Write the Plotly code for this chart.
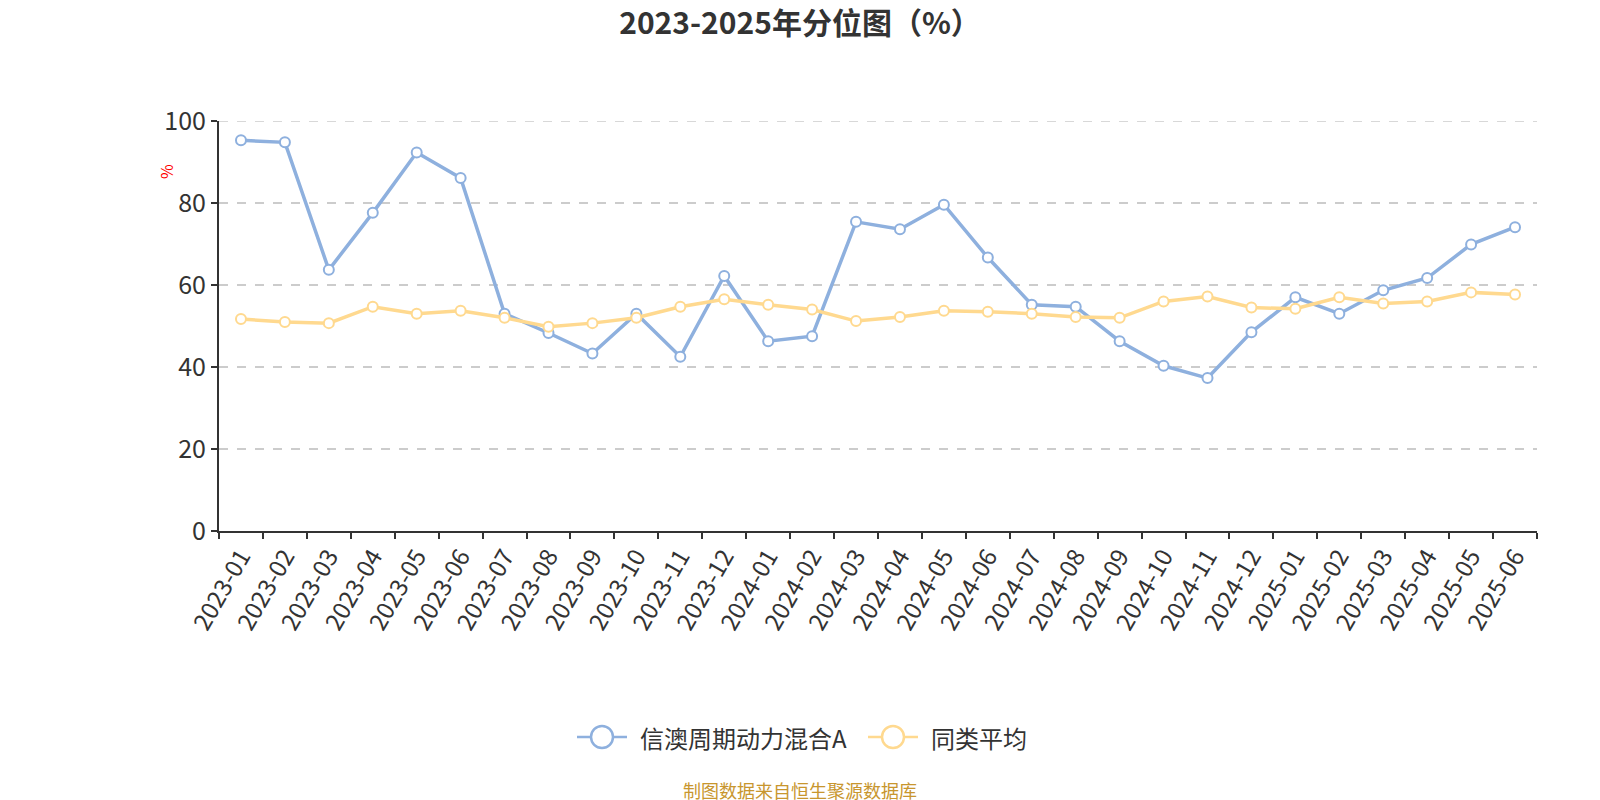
import plotly.graph_objects as go

months = ["2023-01", "2023-02", "2023-03", "2023-04", "2023-05", "2023-06",
          "2023-07", "2023-08", "2023-09", "2023-10", "2023-11", "2023-12",
          "2024-01", "2024-02", "2024-03", "2024-04", "2024-05", "2024-06",
          "2024-07", "2024-08", "2024-09", "2024-10", "2024-11", "2024-12",
          "2025-01", "2025-02", "2025-03", "2025-04", "2025-05", "2025-06"]

fund_name = "信澳周期动力混合A"
fund_values = [95.3, 94.8, 63.7, 77.6, 92.3, 86.1, 53.0, 48.3, 43.3, 53.0,
               42.5, 62.2, 46.3, 47.5, 75.4, 73.6, 79.6, 66.7, 55.2, 54.7,
               46.3, 40.3, 37.3, 48.5, 57.0, 53.0, 58.7, 61.7, 69.9, 74.1]

avg_name = "同类平均"
avg_values = [51.7, 51.0, 50.7, 54.7, 53.0, 53.7, 52.0, 49.8, 50.7, 52.0,
              54.7, 56.5, 55.2, 54.0, 51.2, 52.2, 53.7, 53.5, 53.0, 52.2,
              52.0, 56.0, 57.2, 54.5, 54.2, 57.0, 55.5, 56.0, 58.2, 57.7]

y_ticks = [0, 20, 40, 60, 80, 100]

FONT = "Noto Sans CJK SC"
BLUE = "#8eb0de"
YELLOW = "#ffd98f"

# plot area in figure pixels
L, R, T, B = 211, 71, 113, 277
W, H = 1600, 800
PW, PH = W - L - R, H - T - B


def px_x(px):
    return (px - L) / PW


def px_y(py):
    return (H - B - py) / PH


fig = go.Figure()
series = [(fund_name, fund_values, BLUE), (avg_name, avg_values, YELLOW)]
for name, vals, col in series:
    fig.add_trace(go.Scatter(
        x=months, y=vals, name=name, mode="lines+markers", showlegend=False,
        line=dict(color=col, width=3.5),
        marker=dict(symbol="circle", size=10, color="white",
                    line=dict(color=col, width=2)),
    ))

fig.update_layout(
    width=W, height=H,
    paper_bgcolor="white", plot_bgcolor="white",
    margin=dict(l=L, r=R, t=T, b=B, autoexpand=False),
    font=dict(family=FONT, color="#333333"),
    title=dict(text="<b>2023-2025年分位图（%）</b>", x=0.495, xanchor="center",
               y=1 - 15 / H, yanchor="middle", font=dict(size=30, color="#333333")),
    showlegend=False,
    xaxis=dict(type="category", tickson="boundaries", ticks="outside", ticklen=6,
               tickwidth=2, tickcolor="#333333", showline=True, linecolor="#333333",
               linewidth=2, showgrid=False, tickangle=-60, range=[-0.5, 29.5],
               tickfont=dict(size=24, color="#333333"), categoryorder="array",
               categoryarray=months),
    yaxis=dict(range=[0, 100], tickvals=y_ticks, ticks="outside", ticklen=6,
               tickwidth=2, tickcolor="#333333", showline=True, linecolor="#333333",
               linewidth=2, showgrid=True, gridcolor="#cccccc", griddash="dash",
               gridwidth=1.5, zeroline=False, tickfont=dict(size=25, color="#333333")),
)

# top gridline (plotly hides grid at the range edge)
fig.add_shape(type="line", xref="paper", yref="y", x0=0, x1=1,
              y0=y_ticks[-1], y1=y_ticks[-1],
              line=dict(color="#cccccc", width=1.5, dash="dash"), layer="below")

# manual legend (larger icons like the reference)
legend_y = px_y(729)
legend_items = [(fund_name, BLUE, 569), (avg_name, YELLOW, 860)]
r_px = 11
for name, col, x_start in legend_items:
    fig.add_shape(type="line", xref="paper", yref="paper",
                  x0=px_x(x_start), x1=px_x(x_start + 50), y0=legend_y, y1=legend_y,
                  line=dict(color=col, width=2.5))
    cx = x_start + 25
    fig.add_shape(type="circle", xref="paper", yref="paper",
                  x0=px_x(cx - r_px), x1=px_x(cx + r_px),
                  y0=legend_y - r_px / PH, y1=legend_y + r_px / PH,
                  fillcolor="white", line=dict(color=col, width=2.5))
    fig.add_annotation(text=name, xref="paper", yref="paper", x=px_x(x_start + 61),
                       y=legend_y, xanchor="left", yanchor="middle", showarrow=False,
                       font=dict(size=24, color="#333333", family=FONT))

fig.add_annotation(text="%", xref="paper", yref="paper", x=-0.0503, y=0.9007,
                   showarrow=False, textangle=-90, font=dict(size=16, color="red", family=FONT))
fig.add_annotation(text="制图数据来自恒生聚源数据库", xref="paper", yref="paper",
                   x=px_x(792), y=px_y(782), xanchor="center", yanchor="middle", showarrow=False,
                   font=dict(size=18, color="#c8962e", family=FONT))

fig.write_html("out.html")
